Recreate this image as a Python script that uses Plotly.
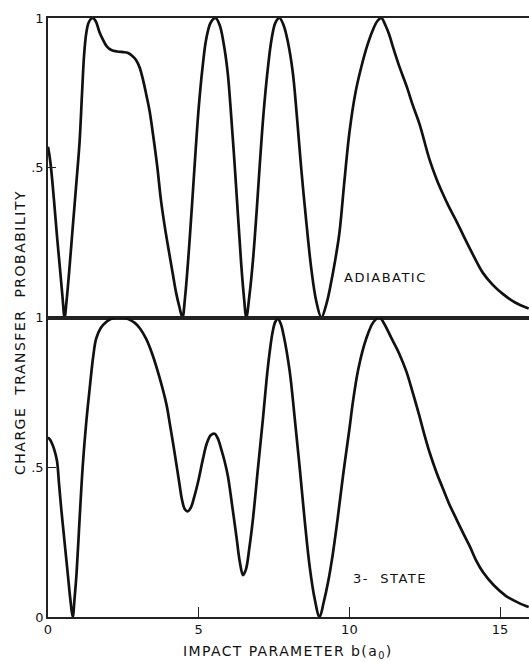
import plotly.graph_objects as go
from plotly.subplots import make_subplots

# Adiabatic curve (upper panel)
adiabatic_b = [0.0, 0.05, 0.1, 0.2, 0.3, 0.4, 0.48, 0.55, 0.62, 0.7, 0.82, 0.95, 1.05, 1.13, 1.2,
               1.27, 1.35, 1.47, 1.58, 1.7, 1.81, 1.95, 2.1, 2.3, 2.5, 2.64, 2.78, 2.92, 3.04,
               3.15, 3.27, 3.37, 3.5, 3.63, 3.75, 3.88, 4.03, 4.15, 4.25, 4.36, 4.46, 4.55,
               4.7, 4.86, 5.0, 5.13, 5.25, 5.4, 5.56, 5.7, 5.82, 5.96, 6.08, 6.2, 6.31, 6.41,
               6.5, 6.58, 6.68, 6.8, 6.92, 7.02, 7.15, 7.3, 7.42, 7.55, 7.68, 7.82, 7.96, 8.12,
               8.26, 8.4, 8.57, 8.74, 8.9, 9.07, 9.25, 9.4, 9.51, 9.67, 9.83, 10.0, 10.2, 10.4,
               10.6, 10.78, 10.93, 11.06, 11.2, 11.32, 11.44, 11.65, 11.89, 12.1, 12.33, 12.66,
               12.9, 13.1, 13.3, 13.55, 13.8, 14.1, 14.43, 14.75, 15.1, 15.5, 15.95]
adiabatic_p = [0.57, 0.54, 0.50, 0.39, 0.27, 0.16, 0.07, 0.0, 0.06, 0.15, 0.30, 0.46, 0.59, 0.75,
               0.88, 0.95, 0.985, 1.0, 0.99, 0.955, 0.93, 0.905, 0.893, 0.888, 0.886, 0.884,
               0.875, 0.86, 0.835, 0.795, 0.74, 0.69, 0.60, 0.50, 0.39, 0.30, 0.21, 0.14, 0.083,
               0.035, 0.0, 0.07, 0.26, 0.50, 0.70, 0.837, 0.93, 0.985, 1.0, 0.975, 0.92, 0.82,
               0.67, 0.50, 0.33, 0.18, 0.07, 0.0, 0.07, 0.19, 0.35, 0.50, 0.68, 0.837, 0.93,
               0.985, 1.0, 0.975, 0.92, 0.82, 0.67, 0.50, 0.32, 0.16, 0.055, 0.0, 0.05, 0.12,
               0.18, 0.283, 0.45, 0.617, 0.75, 0.838, 0.91, 0.96, 0.99, 1.0, 0.975, 0.945,
               0.905, 0.84, 0.775, 0.71, 0.645, 0.527, 0.46, 0.413, 0.37, 0.322, 0.27, 0.21,
               0.149, 0.11, 0.078, 0.05, 0.03]

# 3-state curve (lower panel)
three_state_b = [0.0, 0.08, 0.15, 0.22, 0.3, 0.37, 0.45, 0.53, 0.6, 0.67, 0.74, 0.82, 0.88, 0.95,
                 1.05, 1.15, 1.26, 1.38, 1.5, 1.6, 1.75, 1.93, 2.1, 2.3, 2.5, 2.7, 2.88, 3.04,
                 3.25, 3.47, 3.7, 3.93, 4.05, 4.15, 4.26, 4.36, 4.45, 4.54, 4.64, 4.74, 4.85,
                 5.0, 5.14, 5.27, 5.4, 5.53, 5.63, 5.75, 5.86, 5.97, 6.1, 6.25, 6.37, 6.47, 6.57,
                 6.68, 6.8, 6.97, 7.13, 7.25, 7.35, 7.45, 7.54, 7.63, 7.72, 7.82, 8.02, 8.18,
                 8.35, 8.52, 8.68, 8.85, 9.01, 9.15, 9.3, 9.45, 9.6, 9.8, 10.0, 10.12, 10.3,
                 10.56, 10.8, 11.0, 11.15, 11.4, 11.65, 11.89, 12.1, 12.3, 12.5, 12.66, 12.9,
                 13.1, 13.3, 13.55, 13.8, 14.0, 14.2, 14.43, 14.8, 15.2, 15.6, 15.95]
three_state_p = [0.60, 0.59, 0.575, 0.555, 0.52, 0.44, 0.35, 0.27, 0.20, 0.13, 0.06, 0.0, 0.06,
                 0.15, 0.33, 0.50, 0.64, 0.76, 0.87, 0.93, 0.965, 0.985, 0.996, 1.0, 1.0, 0.993,
                 0.982, 0.965, 0.93, 0.875, 0.80, 0.71, 0.64, 0.58, 0.51, 0.445, 0.39, 0.36,
                 0.353, 0.365, 0.40, 0.46, 0.527, 0.58, 0.607, 0.612, 0.597, 0.56, 0.52, 0.47,
                 0.38, 0.27, 0.18, 0.14, 0.16, 0.23, 0.327, 0.50, 0.66, 0.79, 0.88, 0.95, 0.985,
                 0.995, 0.98, 0.94, 0.82, 0.67, 0.50, 0.32, 0.17, 0.06, 0.0, 0.05, 0.12, 0.21,
                 0.32, 0.48, 0.627, 0.72, 0.83, 0.93, 0.985, 1.0, 0.98, 0.93, 0.88, 0.82, 0.75,
                 0.68, 0.605, 0.55, 0.48, 0.43, 0.38, 0.327, 0.275, 0.235, 0.19, 0.15, 0.105,
                 0.07, 0.048, 0.033]

x_ticks = [0, 5, 10, 15]
x_ticklabels = ["0", "5", "10", "15"]
upper_yticks = [0.5, 1]
upper_yticklabels = [".5", "1"]
lower_yticks = [0, 0.5, 1]
lower_yticklabels = ["0", ".5", "1"]

INK = "#111111"
FONT = "DejaVu Sans"

fig = make_subplots(rows=2, cols=1, shared_xaxes=True, vertical_spacing=0)

fig.add_trace(go.Scatter(x=adiabatic_b, y=adiabatic_p, mode="lines",
                         line=dict(color=INK, width=2.7, shape="spline", smoothing=1.0),
                         showlegend=False), row=1, col=1)
fig.add_trace(go.Scatter(x=three_state_b, y=three_state_p, mode="lines",
                         line=dict(color=INK, width=2.7, shape="spline", smoothing=1.0),
                         showlegend=False), row=2, col=1)

xr = [0, 15.96]
fig.update_xaxes(range=xr, showgrid=False, zeroline=False, showline=True, mirror=True,
                 linecolor="#222222", linewidth=1.5)
fig.update_xaxes(row=1, col=1, showticklabels=False, ticks="")
fig.update_xaxes(row=2, col=1, tickvals=x_ticks, ticktext=x_ticklabels, ticks="inside",
                 ticklen=10, tickwidth=1.3, tickcolor="#222222",
                 tickfont=dict(family=FONT, size=13, color=INK))

fig.update_yaxes(range=[0, 1], showgrid=False, zeroline=False, showline=True,
                 linecolor="#222222", linewidth=1.5, ticks="inside", ticklen=8,
                 tickwidth=1.3, tickcolor="#222222",
                 tickfont=dict(family=FONT, size=13, color=INK))
fig.update_yaxes(row=1, col=1, tickvals=upper_yticks, ticktext=upper_yticklabels)
fig.update_yaxes(row=2, col=1, tickvals=lower_yticks, ticktext=lower_yticklabels)

fig.add_annotation(x=11.2, y=0.133, xref="x", yref="y",
                   text='<span style="letter-spacing:1.5px">ADIABATIC</span>', showarrow=False,
                   xanchor="center", yanchor="middle",
                   font=dict(family=FONT, size=13, color=INK))
fig.add_annotation(x=11.35, y=0.127, xref="x2", yref="y2",
                   text='<span style="letter-spacing:1.5px">3-  STATE</span>', showarrow=False,
                   xanchor="center", yanchor="middle",
                   font=dict(family=FONT, size=13, color=INK))

L, T, B = 48, 18, 45
W, H = 529, 662
pw, ph = W - L, H - T - B

def px(xp):
    return (xp - L) / pw

def py(yp):
    return (H - B - yp) / ph

fig.add_annotation(x=px(288), y=py(652), xref="paper", yref="paper",
                   text='<span style="letter-spacing:1.4px">IMPACT PARAMETER b(a<sub>0</sub>)</span>',
                   showarrow=False, xanchor="center", yanchor="middle",
                   font=dict(family=FONT, size=14, color=INK))
fig.add_annotation(x=px(20), y=py(333), xref="paper", yref="paper", textangle=-90,
                   text='<span style="letter-spacing:1.5px">CHARGE  TRANSFER  PROBABILITY</span>',
                   showarrow=False, xanchor="center", yanchor="middle",
                   font=dict(family=FONT, size=14, color=INK))

fig.update_layout(width=W, height=H, margin=dict(l=L, r=0, t=T, b=B),
                  paper_bgcolor="white", plot_bgcolor="white")

fig.write_html("out.html")
